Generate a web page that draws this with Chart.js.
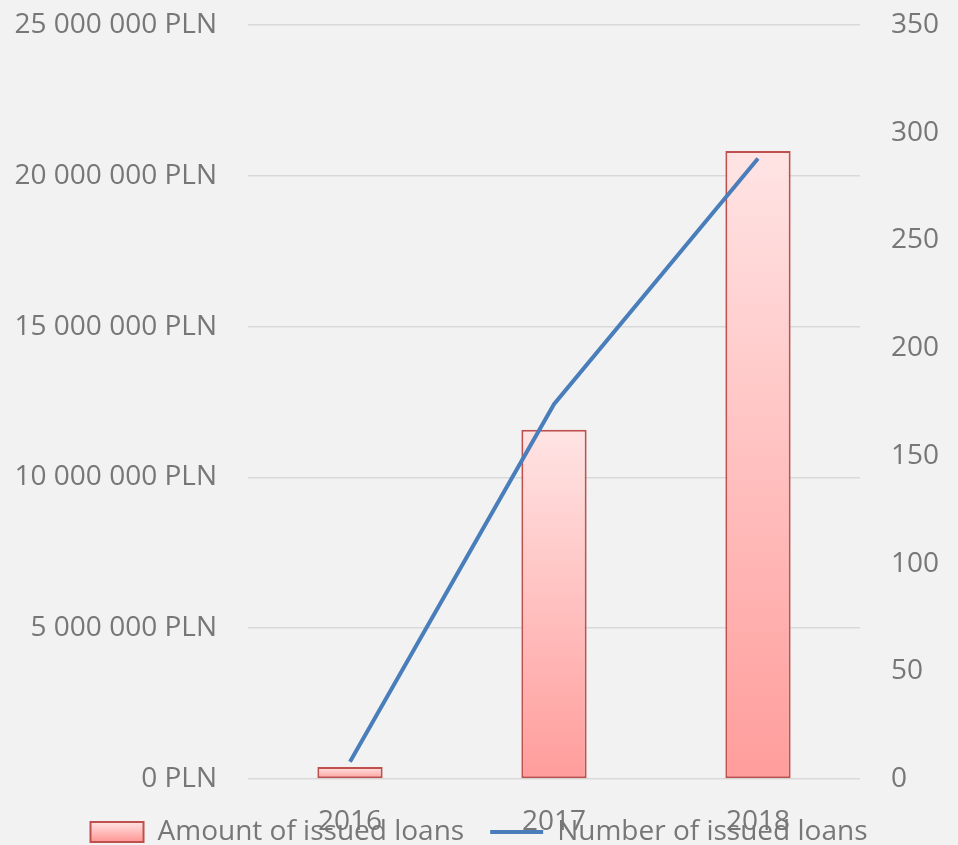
<!DOCTYPE html>
<html>
<head>
<meta charset="utf-8">
<script src="https://cdn.jsdelivr.net/npm/chart.js@4/dist/chart.umd.min.js"></script>
<style>
  html, body { margin: 0; padding: 0; background: #f2f2f2; }
  #wrap { width: 958px; height: 845px; }
</style>
</head>
<body>
<div id="wrap"><canvas id="loans" width="958" height="845"></canvas></div>
<script>
var years = ['2016', '2017', '2018'];
var amountPLN = [400000, 11580000, 20820000];
var loanCount = [8, 174, 288];
var amountTicks = [0, 5000000, 10000000, 15000000, 20000000, 25000000];
var countTicks = [0, 50, 100, 150, 200, 250, 300, 350];

var grey = '#777777';
var font = { family: 'Open Sans', size: 28 };

function plnLabel(v) {
    return String(v).replace(/\B(?=(\d{3})+(?!\d))/g, ' ') + ' PLN';
}

function pinkGradient(ctx, top, bottom) {
    var g = ctx.createLinearGradient(0, top, 0, bottom);
    g.addColorStop(0, '#ffe4e4');
    g.addColorStop(1, '#ff9d9b');
    return g;
}

// each bar gets its own light-to-dark gradient, like the original
function barGradient(c) {
    var chart = c.chart;
    var area = chart.chartArea;
    if (!area || c.type !== 'data') return '#ffc0c0';
    var top = chart.scales.y.getPixelForValue(c.parsed.y);
    return pinkGradient(chart.ctx, top, area.bottom);
}

// legend overlaps the x labels in the original, so move it down after layout
var overlapLegend = {
    id: 'overlapLegend',
    afterLayout: function (chart) {
        chart.scales.x.bottom = chart.height;
        chart.legend.top = 792;
        chart.legend.bottom = chart.height;
    }
};

var ctx = document.getElementById('loans').getContext('2d');
var myChart = new Chart(ctx, {
    type: 'bar',
    data: {
        labels: years,
        datasets: [{
            label: 'Amount of issued loans',
            data: amountPLN,
            yAxisID: 'y',
            backgroundColor: barGradient,
            borderColor: '#c0504d',
            borderWidth: 2,
            borderSkipped: false,
            categoryPercentage: 1,
            barPercentage: 0.32,
            order: 1
        }, {
            type: 'line',
            label: 'Number of issued loans',
            data: loanCount,
            yAxisID: 'y1',
            borderColor: '#4a7ebb',
            backgroundColor: '#4a7ebb',
            borderWidth: 4,
            pointRadius: 0,
            tension: 0,
            order: 0
        }]
    },
    options: {
        responsive: false,
        animation: false,
        layout: { padding: { top: 25, left: 0, right: 0, bottom: 0 } },
        plugins: {
            tooltip: { enabled: false },
            legend: {
                position: 'bottom',
                maxHeight: 30,
                labels: {
                    color: grey,
                    font: font,
                    usePointStyle: true,
                    pointStyleWidth: 53,
                    boxHeight: 20,
                    padding: 26,
                    sort: function (a, b) { return a.datasetIndex - b.datasetIndex; },
                    generateLabels: function (chart) {
                        var items = Chart.defaults.plugins.legend.labels.generateLabels(chart);
                        items.forEach(function (it) {
                            if (it.datasetIndex === 0) {
                                it.fillStyle = pinkGradient(chart.ctx, 822, 840);
                                it.strokeStyle = '#c0504d';
                                it.lineWidth = 2;
                                it.pointStyle = 'rect';
                            } else {
                                it.pointStyle = 'line';
                                it.strokeStyle = '#4a7ebb';
                                it.lineWidth = 4;
                            }
                        });
                        return items;
                    }
                }
            }
        },
        scales: {
            x: {
                offset: true,
                grid: { display: false, drawTicks: false },
                border: { display: false },
                ticks: { color: grey, font: font, padding: 26 },
                afterFit: function (s) { s.height = 36; }
            },
            y: {
                position: 'left',
                min: 0,
                max: 25000000,
                afterBuildTicks: function (s) {
                    s.ticks = amountTicks.map(function (v) { return { value: v }; });
                },
                grid: { color: '#d9d9d9', lineWidth: 1.5, drawTicks: false },
                border: { display: false },
                ticks: { color: grey, font: font, padding: 31, callback: plnLabel },
                afterFit: function (s) { s.width = 248; s.paddingTop = 15; s.paddingBottom = 0; }
            },
            y1: {
                position: 'right',
                min: 0,
                max: 350,
                afterBuildTicks: function (s) {
                    s.ticks = countTicks.map(function (v) { return { value: v }; });
                },
                grid: { display: false, drawTicks: false },
                border: { display: false },
                ticks: { color: grey, font: font, padding: 31 },
                afterFit: function (s) { s.width = 98; s.paddingTop = 15; s.paddingBottom = 0; }
            }
        }
    },
    plugins: [overlapLegend]
});
</script>
</body>
</html>
